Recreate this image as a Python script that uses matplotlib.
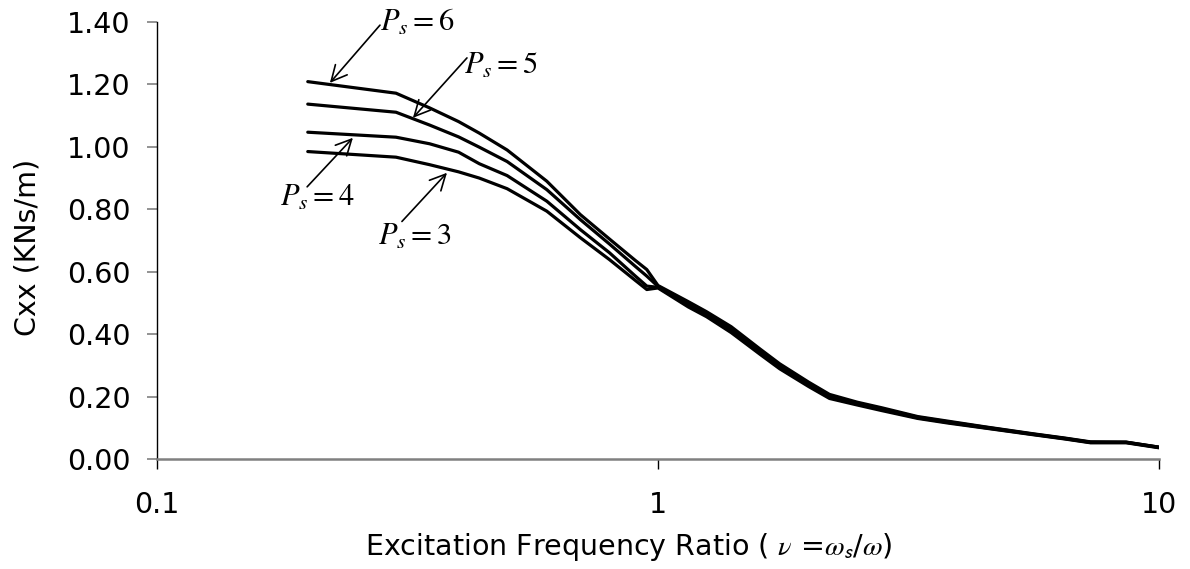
import matplotlib
matplotlib.use("Agg")
import matplotlib.pyplot as plt

# frequency ratio (x) and damping Cxx for each Ps
ratio = [0.2, 0.3, 0.35, 0.4, 0.44, 0.5, 0.6, 0.7, 0.8, 0.9, 0.95, 1.0,
         1.15, 1.25, 1.4, 1.6, 1.75, 2.0, 2.2, 2.5, 2.8, 3.3, 3.8, 4.5, 5.6, 6.5, 7.3, 8.6, 10]
ps6 = [1.209, 1.172, 1.125, 1.081, 1.044, 0.990, 0.890, 0.783, 0.705, 0.637, 0.607, 0.556,
       0.504, 0.472, 0.424, 0.352, 0.305, 0.246, 0.207, 0.182, 0.164, 0.136, 0.121, 0.103,
       0.081, 0.067, 0.055, 0.054, 0.038]
ps5 = [1.137, 1.111, 1.070, 1.032, 0.999, 0.953, 0.863, 0.767, 0.689, 0.618, 0.586, 0.553,
       0.498, 0.466, 0.417, 0.346, 0.299, 0.241, 0.202, 0.179, 0.161, 0.134, 0.119, 0.102,
       0.080, 0.066, 0.054, 0.054, 0.038]
ps4 = [1.047, 1.031, 1.010, 0.983, 0.946, 0.908, 0.826, 0.735, 0.661, 0.587, 0.554, 0.550,
       0.492, 0.461, 0.411, 0.340, 0.294, 0.236, 0.198, 0.176, 0.158, 0.132, 0.117, 0.100,
       0.079, 0.065, 0.053, 0.053, 0.037]
ps3 = [0.985, 0.967, 0.943, 0.920, 0.900, 0.866, 0.794, 0.709, 0.639, 0.573, 0.543, 0.548,
       0.487, 0.456, 0.405, 0.335, 0.289, 0.232, 0.194, 0.173, 0.155, 0.130, 0.115, 0.099,
       0.078, 0.064, 0.052, 0.052, 0.036]

# label text, arrow tip, arrow start, text anchor
notes = [
    (r"$P_s = 6$", (0.2214, 1.205), (0.2787, 1.390), (0.2787, 1.40)),
    (r"$P_s = 5$", (0.3243, 1.093), (0.4157, 1.285), (0.410, 1.262)),
    (r"$P_s = 4$", (0.2461, 1.029), (0.1994, 0.872), (0.176, 0.837)),
    (r"$P_s = 3$", (0.3792, 0.917), (0.3083, 0.761), (0.2762, 0.713)),
]

plt.rcParams["font.family"] = ["DejaVu Sans"]
plt.rcParams["mathtext.fontset"] = "stix"

fig = plt.figure(figsize=(11.9, 5.69), dpi=100)
ax = fig.add_axes([0.1319, 0.1933, 0.8420, 0.7680])

for ys in (ps6, ps5, ps4, ps3):
    ax.plot(ratio, ys, color="black", lw=2.3, solid_capstyle="round", solid_joinstyle="round")

for txt, tip, start, pos in notes:
    ax.annotate("", xy=tip, xytext=start,
                arrowprops=dict(arrowstyle="->", lw=1.2, color="black", mutation_scale=28,
                                shrinkA=0, shrinkB=0))
    ax.text(pos[0], pos[1], txt, fontsize=22, ha="left", va="center")

ax.set_xscale("log")
ax.set_xlim(0.1, 10)
ax.set_ylim(0, 1.4)
ax.set_xticks([0.1, 1, 10])
ax.set_xticklabels(["0.1", "1", "10"])
ax.minorticks_off()
ax.set_yticks([0, 0.2, 0.4, 0.6, 0.8, 1.0, 1.2, 1.4])
ax.set_yticklabels(["%.2f" % v for v in [0, 0.2, 0.4, 0.6, 0.8, 1.0, 1.2, 1.4]])

ax.spines["top"].set_visible(False)
ax.spines["right"].set_visible(False)
ax.spines["left"].set_color("black")
ax.spines["left"].set_linewidth(1.0)
ax.spines["bottom"].set_color("#808080")
ax.spines["bottom"].set_linewidth(1.8)

ax.tick_params(axis="y", direction="out", length=7, width=1.2, color="#808080",
               labelsize=20.5, pad=12)
ax.tick_params(axis="x", direction="out", length=7, width=1.0, color="black",
               labelsize=20.5, pad=16)

ax.set_ylabel("Cxx (KNs/m)", fontsize=20.5)
ax.yaxis.set_label_coords(-0.115, 0.485)
ax.set_xlabel(r"Excitation Frequency Ratio ( $\nu$ =$\omega_\mathsf{s}$/$\omega$)", fontsize=20.5)
ax.xaxis.set_label_coords(0.2076, -0.165)
ax.xaxis.label.set_horizontalalignment("left")

fig.savefig("out.png", dpi=100)
